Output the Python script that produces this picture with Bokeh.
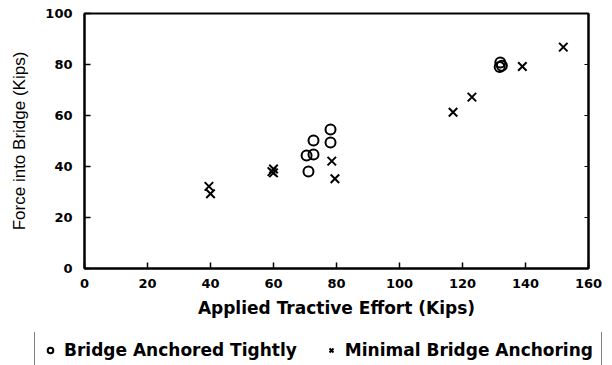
from bokeh.plotting import figure
from bokeh.layouts import column
from bokeh.models import Legend, LegendItem, LinearAxis, FixedTicker, Range1d
from bokeh.embed import file_html
from bokeh.resources import INLINE

# Data
tight_x = [71.1, 70.5, 72.7, 72.7, 78.1, 78.1, 132.0, 132.5, 131.8]
tight_y = [38.0, 44.3, 44.7, 50.2, 49.4, 54.5, 80.8, 79.5, 79.0]

minimal_x = [39.5, 40.0, 60.0, 60.0, 59.5, 78.5, 79.5, 117.0, 123.0, 139.0, 152.0]
minimal_y = [32.2, 29.3, 39.0, 37.5, 38.0, 42.1, 35.2, 61.3, 67.2, 79.2, 86.8]

x_ticks = [0, 20, 40, 60, 80, 100, 120, 140, 160]
y_ticks = [0, 20, 40, 60, 80, 100]

x_label = "Applied Tractive Effort (Kips)"
y_label = "Force into Bridge (Kips)"
series_labels = ["Bridge Anchored Tightly", "Minimal Bridge Anchoring"]

p = figure(width=612, height=332, output_backend="svg", toolbar_location=None,
           x_range=Range1d(0, 160), y_range=Range1d(0, 100),
           min_border_left=84, min_border_right=24, min_border_top=13,
           min_border_bottom=64)

p.xgrid.visible = False
p.ygrid.visible = False
p.outline_line_color = "black"
p.outline_line_width = 2
p.background_fill_color = "white"
p.border_fill_color = "white"

tick_font = "DejaVu Sans"
for ax in (p.xaxis[0], p.yaxis[0]):
    ax.axis_line_color = "black"
    ax.axis_line_width = 2
    ax.major_tick_in = 6
    ax.major_tick_out = 0
    ax.major_tick_line_width = 1.5
    ax.minor_tick_in = 0
    ax.minor_tick_out = 0
    ax.major_label_text_font = tick_font
    ax.major_label_text_font_style = "bold"
    ax.major_label_text_font_size = "13px"
    ax.major_label_text_color = "black"
    ax.axis_label_text_color = "black"

p.xaxis[0].ticker = FixedTicker(ticks=x_ticks)
p.yaxis[0].ticker = FixedTicker(ticks=y_ticks)
p.xaxis[0].major_label_standoff = 10
p.yaxis[0].major_label_standoff = 12

p.xaxis[0].axis_label = x_label
p.xaxis[0].axis_label_text_font = "DejaVu Sans"
p.xaxis[0].axis_label_text_font_style = "bold"
p.xaxis[0].axis_label_text_font_size = "17px"
p.xaxis[0].axis_label_standoff = 7

p.yaxis[0].axis_label = y_label
p.yaxis[0].axis_label_text_font = "Liberation Sans"
p.yaxis[0].axis_label_text_font_style = "normal"
p.yaxis[0].axis_label_text_font_size = "17px"
p.yaxis[0].axis_label_standoff = 13

right = LinearAxis(ticker=FixedTicker(ticks=y_ticks), major_tick_in=4, major_tick_out=0,
                   minor_tick_in=0, minor_tick_out=0, axis_line_color="black",
                   axis_line_width=2, major_label_standoff=0,
                   major_label_overrides={t: "" for t in y_ticks})
p.add_layout(right, "right")

r1 = p.scatter(tight_x, tight_y, marker="circle", size=10, fill_color=None,
               line_color="black", line_width=2)
r2 = p.scatter(minimal_x, minimal_y, marker="x", size=12,
               line_color="black", line_width=2)

# Legend strip below the chart
lg = figure(width=612, height=33, output_backend="svg", toolbar_location=None,
            x_range=Range1d(0, 1), y_range=Range1d(0, 1),
            min_border_left=0, min_border_right=0, min_border_top=0,
            min_border_bottom=0, x_axis_location=None, y_axis_location=None)
lg.xgrid.visible = False
lg.ygrid.visible = False
lg.outline_line_color = None
l1 = lg.scatter(tight_x, tight_y, marker="circle", size=10, fill_color=None,
                line_color="black", line_width=2, visible=False)
l2 = lg.scatter(minimal_x, minimal_y, marker="x", size=12,
                line_color="black", line_width=2, visible=False)

legend = Legend(items=[LegendItem(label=series_labels[0], renderers=[l1]),
                       LegendItem(label=series_labels[1], renderers=[l2])],
                orientation="horizontal", location=(34, -4),
                label_text_font="DejaVu Sans", label_text_font_style="bold",
                label_text_font_size="17px", label_text_color="black",
                border_line_color="black", border_line_width=1.5,
                padding=8, spacing=27, label_standoff=7,
                glyph_width=14, glyph_height=20, margin=0,
                inactive_fill_alpha=0,
                background_fill_color="white", background_fill_alpha=1)
lg.add_layout(legend)

layout = column(p, column(lg, spacing=0), spacing=0)
open("out.html", "w").write(file_html(layout, INLINE))
